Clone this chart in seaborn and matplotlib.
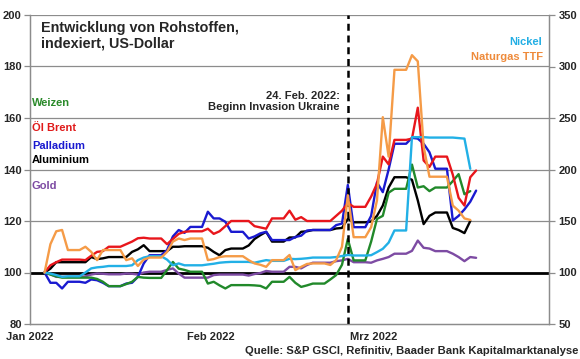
import numpy as np
import pandas as pd
import matplotlib
matplotlib.use("Agg")
import matplotlib.pyplot as plt
import seaborn as sns

sns.set_style("white")
plt.rcParams['font.family'] = ['Liberation Sans', 'DejaVu Sans']
plt.rcParams['font.weight'] = 'bold'

nan = np.nan

# business days 3 Jan - 18 Mar 2022, indexed values (Dec 2021 = 100)
weizen = [100, 99.2, 98.5, 98, 98,
          98, 98, 97.5, 96.4, 94.7,
          95.5, 96.4, 98.3, 98, 97.9,
          100.9, 104.1, 101.5, 101, 100.3,
          95.7, 96.4, 95, 93.8, 95.1,
          95.1, 95, 94.8, 93.8, 96.4,
          98.3, 96, 94.4, 95, 95.7,
          97.3, 99, 103, 113, 104.7,
          112, 120.8, 122, 131, 132.5,
          141.9, 133, 133.5, 131.6, 133,
          135.5, 138.2, 130.4, 131.6, nan]
brent = [100, 102.8, 104, 105, 105,
         104.8, 106.5, 108, 108.3, 110,
         111, 112, 113.3, 113.5, 113.2,
         111, 113, 115, 115.8, 116,
         117, 115, 116, 118, 120,
         120, 118, 117.5, 117, 121,
         124, 120.5, 121.5, 120, 120,
         120, 122, 124, 127, 125.5,
         129.5, 134.5, 145, 142, 151.5,
         152, 164, 143.5, 141, 145,
         138, 129, 126, 137, 139.6]
palladium = [100, 96, 96, 93.8, 96.4,
             96, 97.3, 97, 96, 94.7,
             95.7, 96, 98.3, 103.5, 106.7,
             108.7, 114, 116.5, 115.4, 117.7,
             123.6, 121, 121, 119.7, 115.8,
             113.2, 114, 115.2, 115.8, 112.6,
             112.6, 113.8, 114.3, 116.3, 116.5,
             116.5, 118.4, 119, 134, 117.6,
             122, 135, 131.2, 140, 150,
             152.3, 152, 150, 146.7, 140.3,
             120.2, 122, 124.5, 127.5, 131.8]
aluminium = [100, 101.5, 104, 104, 104,
             104, 106, 105.2, 105.5, 106,
             106, 108, 109, 110.6, 108.3,
             108.3, 110, 110, 110.2, 110.2,
             109.6, 108, 106.7, 108.7, 109.3,
             110.5, 113, 114.5, 115.8, 112,
             113.6, 113.6, 115.8, 116, 116.5,
             116.5, 117.1, 117.3, 120.8, 119.5,
             119.8, 122, 126, 133, 137,
             136, 128, 118.8, 122, 123.3,
             117.3, 116.5, 115.3, 120, nan]
gold = [100, 99.3, 98.3, 98.3, 98.3,
        98.5, 99.2, 99.6, 99.5, 99.3,
        99.6, 99.5, 99.2, 100, 100.3,
        101, 101.6, 99.6, 98, 98,
        98, 99, 99.2, 99.2, 99.2,
        98.8, 99.4, 99.8, 100.6, 100.3,
        102.2, 102.2, 101.6, 102.9, 103.8,
        103.8, 104.4, 104.7, 105.3, 104,
        103.8, 104.7, 105.3, 106, 107.3,
        108.4, 112.4, 109.6, 109.3, 108.3,
        107.3, 106, 104.4, 106, 105.7]
# right axis
nickel = [100, 99, 97.5, 95.8, 96.3,
          100, 104, 105, 105.5, 106.3,
          106.3, 107, 112, 114.5, 115.8,
          112.5, 107, 108.8, 107, 107,
          107.8, 108.5, 109.5, 110, 110.3,
          110.3, 109.5, 110.8, 112, 111.3,
          113.3, 113, 113.3, 113.8, 114.5,
          114.5, 115, 116, 117, 116.5,
          116.8, 119.8, 123, 129, 140.8,
          231.4, 231.4, 231.4, 231, 231,
          231, 230.5, 230, 200.7, nan]
naturgas = [100, 127.5, 140, 141.3, 121.8,
            125, 120, 112, 121.8, 121.8,
            112, 113.8, 106.3, 112.5, 114.5,
            120, 130, 133, 131.5, 133,
            112, 113, 115, 115.8, 115.8,
            112, 108.8, 107.5, 105.5, 112,
            117, 102.3, 105.5, 108.3, 108.8,
            107.3, 112, 125, 175, 134.3,
            144, 170, 250.8, 212.5, 296.8,
            311, 305, 222.5, 193, 193,
            165, 160, 152.5, 151, nan]

links = {"Gold": gold, "Aluminium": aluminium, "Palladium": palladium,
         "Weizen": weizen, "Öl Brent": brent}
rechts = {"Nickel": nickel, "Naturgas TTF": naturgas}
farben = {"Weizen": "#21892a", "Öl Brent": "#e8161c", "Palladium": "#1a1ad0",
          "Aluminium": "#000000", "Gold": "#7d4ba3",
          "Nickel": "#22b0e6", "Naturgas TTF": "#f59b47"}
text_farben = {"Weizen": "#2a8a2a", "Öl Brent": "#e01a1a", "Palladium": "#1a1ad0",
               "Aluminium": "#000000", "Gold": "#7d4ba3",
               "Nickel": "#22aee4", "Naturgas TTF": "#ee8a3a"}

bdays = pd.bdate_range("2022-01-03", "2022-03-18")
tage = pd.date_range("2022-01-03", "2022-03-18", freq="D")


def long_table(series):
    df = pd.DataFrame(series, index=bdays)
    # weekends carry the Friday value, as in the source chart
    df = df.reindex(tage, method="ffill")
    df.index = df.index + pd.Timedelta(hours=12)
    df.index.name = "Datum"
    return df.reset_index().melt(id_vars="Datum", var_name="Rohstoff",
                                 value_name="Wert").dropna()


fig = plt.figure(figsize=(5.8, 3.59), dpi=100)
fig.subplots_adjust(left=30/580, right=549/580, bottom=1-324/359, top=1-15/359)
ax = fig.add_subplot(111)
ax2 = ax.twinx()

ax.set_ylim(80, 200)
ax.set_yticks(range(80, 201, 20))
for v in range(120, 201, 20):
    ax.axhline(v, color="#8c8c8c", lw=0.9, zorder=1)
ax.axhline(100, color="black", lw=2.0, zorder=1.5)

sns.lineplot(data=long_table(links), x="Datum", y="Wert", hue="Rohstoff",
             hue_order=list(links), palette=farben, estimator=None,
             linewidth=1.7, legend=False, ax=ax)
sns.lineplot(data=long_table(rechts), x="Datum", y="Wert", hue="Rohstoff",
             hue_order=list(rechts), palette=farben, estimator=None,
             linewidth=1.7, legend=False, ax=ax2)

ax2.set_ylim(50, 350)
ax2.set_yticks(range(50, 351, 50))

ax.set_xlim(pd.Timestamp("2022-01-01"), pd.Timestamp("2022-03-31"))
ax.set_xticks([pd.Timestamp("2022-01-01"), pd.Timestamp("2022-02-01"),
               pd.Timestamp("2022-03-01")])
ax.set_xticklabels(["Jan 2022", "Feb 2022", "Mrz 2022"])

ax.axvline(pd.Timestamp("2022-02-24 12:00"), color="black", lw=1.8,
           dashes=(2.8, 1.9), zorder=3)

for a in (ax, ax2):
    a.set_xlabel("")
    a.set_ylabel("")
    a.spines["top"].set_visible(False)
    for s in ("left", "right", "bottom"):
        a.spines[s].set_color("#8c8c8c")
        a.spines[s].set_linewidth(0.9)
ax.tick_params(axis="y", direction="out", length=4, width=0.9, color="#8c8c8c",
               labelsize=8, pad=2)
ax2.tick_params(axis="y", direction="out", length=4, width=0.9, color="#8c8c8c",
                labelsize=8, pad=3)
ax.tick_params(axis="x", direction="out", length=3, width=0.9, color="#8c8c8c",
               labelsize=8, pad=3)
for lab in ax.get_xticklabels() + ax.get_yticklabels() + ax2.get_yticklabels():
    lab.set_fontweight("bold")

W, H = 580, 359


def ftext(x, y, s, **kw):
    fig.text(x / W, 1 - y / H, s, fontweight="bold", **kw)


ftext(41, 21, "Entwicklung von Rohstoffen,\nindexiert, US-Dollar",
      fontsize=10.4, va="top", ha="left", linespacing=1.12)

for name, y in [("Weizen", 103), ("Öl Brent", 128), ("Palladium", 146),
                ("Aluminium", 160), ("Gold", 186)]:
    ftext(32, y, name, color=text_farben[name], fontsize=8, va="center")
ftext(542, 42, "Nickel", color=text_farben["Nickel"], fontsize=8, va="center", ha="right")
ftext(543, 57, "Naturgas TTF", color=text_farben["Naturgas TTF"], fontsize=8,
      va="center", ha="right")

ftext(340, 101.5, "24. Feb. 2022:\nBeginn Invasion Ukraine", fontsize=8.1,
      va="center", ha="right", linespacing=1.2)
ftext(578, 350.5, "Quelle: S&P GSCI, Refinitiv, Baader Bank Kapitalmarktanalyse",
      fontsize=8.1, va="center", ha="right")

fig.savefig("out.png", dpi=100)
